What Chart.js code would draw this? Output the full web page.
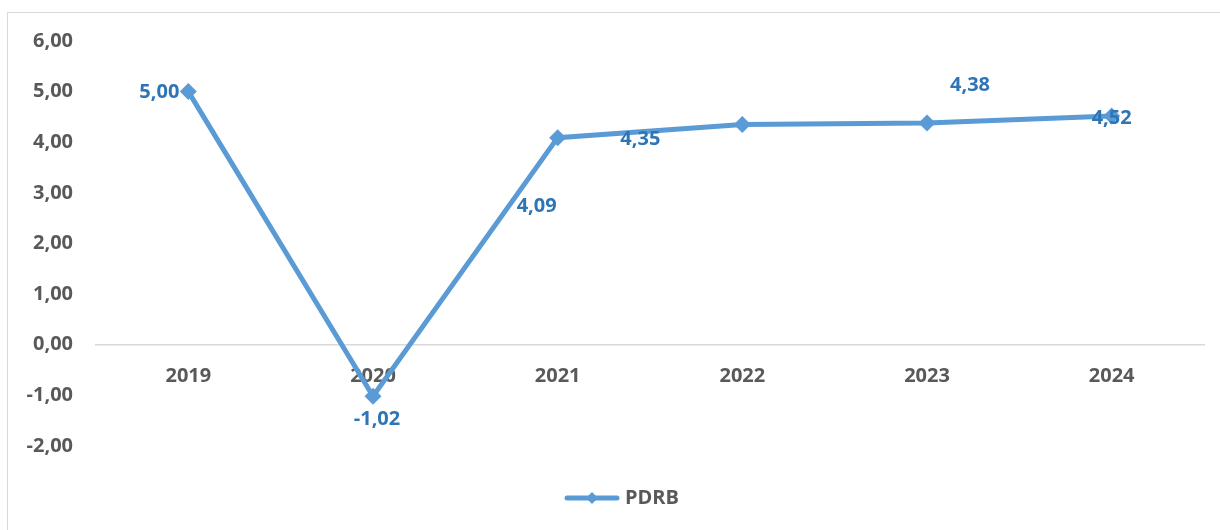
<!DOCTYPE html>
<html><head><meta charset="utf-8">
<script src="https://cdn.jsdelivr.net/npm/chart.js@4.4.1/dist/chart.umd.min.js"></script>
<style>html,body{margin:0;padding:0;background:#fff;} #wrap{width:1220px;height:530px;position:relative;}</style>
</head><body><div id="wrap"><canvas id="c" width="1220" height="530"></canvas></div>
<script>
// ---- data ----
const categories = ['2019', '2020', '2021', '2022', '2023', '2024'];
const pdrbValues = [5.00, -1.02, 4.09, 4.35, 4.38, 4.52];
const yTickValues = [-2, -1, 0, 1, 2, 3, 4, 5, 6];
const seriesName = 'PDRB';

// ---- style ----
const LINE = '#5B9BD5';
const LABEL = '#2E75B6';
const AXIS_TEXT = '#595959';
const FONT = '"Open Sans", "DejaVu Sans", sans-serif';
const labelOffsets = [[-29, 1], [4, 23], [-21, 69], [-102, 15], [43, -38], [0, 2]];

const fmt = v => v.toFixed(2).replace('.', ',');

// legend swatch: line with a diamond
const legendImg = document.createElement('canvas');
legendImg.width = 56; legendImg.height = 16;
(function () {
  const g = legendImg.getContext('2d');
  g.strokeStyle = LINE; g.lineWidth = 5; g.lineCap = 'round';
  g.beginPath(); g.moveTo(3, 8); g.lineTo(53, 8); g.stroke();
  g.fillStyle = LINE;
  g.beginPath(); g.moveTo(28, 2); g.lineTo(34, 8); g.lineTo(28, 14); g.lineTo(22, 8); g.closePath(); g.fill();
})();

const framePlugin = {
  id: 'frame',
  afterLayout(chart) {
    if (chart.legend) { chart.legend.left += 22; chart.legend.right += 22; }
  },
  beforeDraw(chart) {
    const ctx = chart.ctx;
    ctx.save();
    ctx.fillStyle = '#fff';
    ctx.fillRect(0, 0, chart.width, chart.height);
    ctx.strokeStyle = '#d9d9d9';
    ctx.lineWidth = 1;
    ctx.strokeRect(7.5, 12.5, 1400, 700);
    ctx.restore();
  }
};

const dataLabelPlugin = {
  id: 'dataLabels',
  afterDatasetsDraw(chart) {
    const meta = chart.getDatasetMeta(0);
    const ctx = chart.ctx;
    ctx.save();
    ctx.font = 'bold 20px ' + FONT;
    ctx.fillStyle = LABEL;
    ctx.textAlign = 'center';
    ctx.textBaseline = 'middle';
    meta.data.forEach((pt, i) => {
      const [dx, dy] = labelOffsets[i];
      ctx.fillText(fmt(pdrbValues[i]), pt.x + dx, pt.y + dy);
    });
    ctx.restore();
  }
};

Chart.defaults.font.family = FONT;
Chart.defaults.font.size = 20;
Chart.defaults.font.weight = 'bold';
Chart.defaults.color = AXIS_TEXT;

new Chart(document.getElementById('c'), {
  type: 'line',
  data: {
    labels: categories,
    datasets: [{
      label: seriesName,
      data: pdrbValues,
      borderColor: LINE,
      backgroundColor: LINE,
      borderWidth: 5,
      pointStyle: 'rectRot',
      pointRadius: 8.5,
      pointHoverRadius: 8.5,
      pointBorderWidth: 0,
      pointBackgroundColor: LINE,
      tension: 0,
      clip: false
    }]
  },
  options: {
    responsive: false,
    animation: false,
    devicePixelRatio: 1,
    layout: { padding: { left: 0, right: 16, top: 41, bottom: 12 } },
    scales: {
      x: {
        type: 'category',
        position: { y: 0 },
        offset: true,
        grid: { display: false, drawTicks: false },
        border: { display: true, color: '#d9d9d9', width: 1.5 },
        ticks: { padding: 20, color: AXIS_TEXT, font: { size: 20, weight: 'bold' }, maxRotation: 0 }
      },
      y: {
        type: 'linear',
        min: -2, max: 6,
        afterBuildTicks: s => { s.ticks = yTickValues.map(v => ({ value: v })); },
        afterFit: s => { s.width = 96; },
        grid: { display: false, drawTicks: false },
        border: { display: false },
        ticks: { padding: 23, color: AXIS_TEXT, font: { size: 20, weight: 'bold' }, callback: v => fmt(v) }
      }
    },
    plugins: {
      tooltip: { enabled: false },
      legend: {
        display: true,
        position: 'bottom',
        title: { display: true, text: ' ', font: { size: 1 }, padding: { top: 31, bottom: 0 } },
        labels: {
          usePointStyle: true,
          pointStyleWidth: 46,
          padding: 10,
          color: AXIS_TEXT,
          font: { size: 20, weight: 'bold' },
          generateLabels: chart => Chart.defaults.plugins.legend.labels.generateLabels(chart).map(l => Object.assign(l, { pointStyle: legendImg }))
        }
      }
    }
  },
  plugins: [framePlugin, dataLabelPlugin]
});
</script>
</body></html>
